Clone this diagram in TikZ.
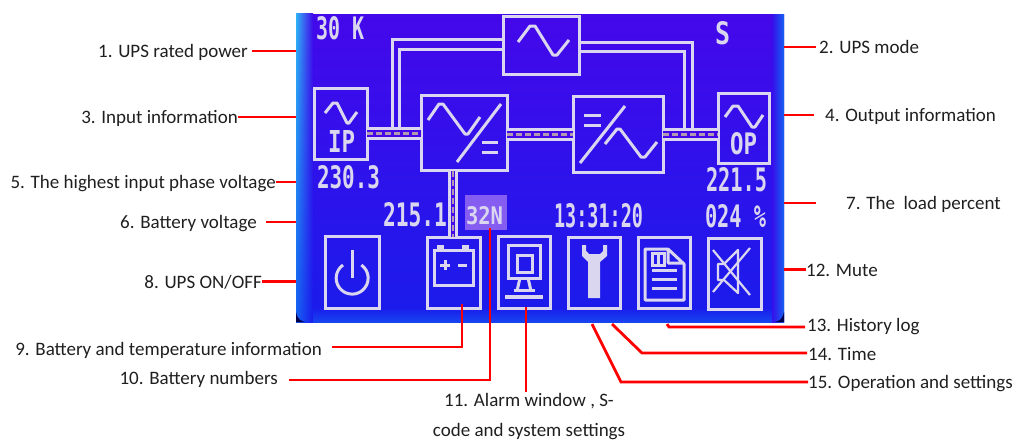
\documentclass[tikz,border=0pt]{standalone}
\usepackage{fontspec}
\setmainfont{Carlito}
\newfontfamily\lcdfont{DejaVu Sans Mono}
\usetikzlibrary{shapes.misc,fadings}
\definecolor{lcdink}{HTML}{DAD6F0}
\definecolor{lcdtop}{HTML}{4408EA}
\definecolor{lcdbot}{HTML}{1A1CEC}
\definecolor{lcddash}{HTML}{B09AB0}
\definecolor{lcdedge}{HTML}{1560F2}
\definecolor{lcdglow}{HTML}{30B4F6}
\newcommand{\lcdtext}[3]{\resizebox{#1pt}{#2pt}{\lcdfont\bfseries #3}}
\tikzset{
    lcdscreen/.style={rectangle,top color=lcdtop,bottom color=lcdbot,minimum width=488pt,minimum height=308pt,inner sep=0pt,outer sep=0pt},
    lcdline/.style={draw=lcdink,line width=3pt},
    lcdbox/.style={rectangle,lcdline,inner sep=0pt,outer sep=0pt},
    docbox/.style={chamfered rectangle,chamfered rectangle corners=north east,chamfered rectangle sep=4pt,lcdline,inner sep=0pt,outer sep=0pt},
    lcdlabel/.style={text=lcdink,inner sep=0pt},
    linkline/.style={lcdline,double=lcdtop,double distance=7pt},
    linkdash/.style={draw=lcddash,line width=3pt,dash pattern=on 6pt off 3pt},
    leader/.style={draw=red,line width=2.8pt},
    caption/.style={font=\fontsize{19}{30}\selectfont,text=black!88,inner sep=0pt,text height=16pt,text depth=3pt},
}
\begin{document}
\begin{tikzpicture}[x=1pt,y=-1pt]
    \useasboundingbox (0,0) rectangle (1017,440);

    % screen
    \node[lcdscreen] (lcd) at (540,168) {};
    \shade[left color=lcdedge,right color=lcdbot] (296,14) rectangle (313,322);
    \shade[left color=lcdglow,middle color=lcdglow!60!lcdtop,right color=lcdtop,path fading=south] (296,14) rectangle (313,322);
    \shade[left color=lcdtop!70!lcdbot,right color=lcdedge] (772,14) rectangle (784,322);
    \shade[top color=lcdbot,bottom color=lcdedge!60!lcdbot] (313,308) rectangle (772,322);
    \fill[blue!30!black] (296,322) -- (296,312) .. controls (297,318) and (300,321) .. (305,322) -- cycle;
    \fill[blue!30!black] (784,322) -- (784,312) .. controls (783,318) and (780,321) .. (775,322) -- cycle;
    \fill[lcdtop!65!white] (465,195) rectangle (507,230);

    % power path
    \node[lcdbox,minimum width=76pt,minimum height=58pt] (bypbox) at (541,45) {};
    \node[docbox,minimum width=53pt,minimum height=71pt] (ipbox) at (340.5,123.5) {};
    \node[lcdbox,minimum width=86pt,minimum height=75pt] (recbox) at (464,133) {};
    \node[lcdbox,minimum width=90pt,minimum height=76pt] (invbox) at (618,134) {};
    \node[docbox,minimum width=51pt,minimum height=70pt] (opbox) at (743.5,128) {};

    \draw[lcdline] (bypbox.west |- 0,39) -| (392,128);
    \draw[lcdline] (bypbox.west |- 0,49) -| (399,128);
    \draw[lcdline] (bypbox.east |- 0,42) -| (692,128);
    \draw[lcdline] (bypbox.east |- 0,51) -| (684,128);

    \draw[linkline] (ipbox.east |- 0,133) -- (recbox.west |- 0,133);
    \draw[linkline] (recbox.east |- 0,134) -- (invbox.west |- 0,134);
    \draw[linkline] (invbox.east |- 0,134) -- (opbox.west |- 0,134);
    \draw[linkdash] (ipbox.east |- 0,133) -- (recbox.west |- 0,133);
    \draw[linkdash] (recbox.east |- 0,134) -- (invbox.west |- 0,134);
    \draw[linkdash] (invbox.east |- 0,134) -- (opbox.west |- 0,134);

    % bottom icons
    \node[docbox,minimum width=54pt,minimum height=72pt] (onbox) at (352,272) {};
    \node[docbox,minimum width=53pt,minimum height=71pt] (batbox) at (453.5,272.5) {};
    \node[docbox,minimum width=52pt,minimum height=72pt] (almbox) at (524,272) {};
    \node[docbox,minimum width=52pt,minimum height=71pt] (setbox) at (594,272.5) {};
    \node[docbox,minimum width=52pt,minimum height=71pt] (logbox) at (664,272.5) {};
    \node[docbox,minimum width=53pt,minimum height=71pt] (mutbox) at (734.5,273.5) {};

    \draw[linkline,double distance=4pt] (recbox.south -| 453,0) -- (batbox.north -| 453,0);
    \draw[linkdash,line width=2.4pt] (recbox.south -| 453,0) -- (batbox.north -| 453,0);

    % wave and converter marks
    \draw[lcdline,line join=round] (518,42) -- (530,26) -- (535,26) -- (553,55) -- (557,55) -- (569,40);
    \draw[lcdline,line join=round] (325,113) -- (333,103) -- (337,103) -- (347,123) -- (349,123) -- (357,112);
    \draw[lcdline,line join=round] (725,117) -- (733,106) -- (738,106) -- (752,127) -- (755,127) -- (763,115);
    \draw[lcdline,line join=round] (428,120) -- (439,104) -- (443,104) -- (465,134) -- (468,134) -- (480,117);
    \draw[lcdline,line join=round] (605,144) -- (617,129) -- (620,129) -- (641,157) -- (645,157) -- (657,142);
    \draw[lcdline] (457,162) -- (501,104);
    \draw[lcdline] (580,163) -- (625,106);
    \foreach \y in {142,152}{
        \draw[lcdline] (482,\y) -- (498,\y);
    }
    \foreach \y in {115,125}{
        \draw[lcdline] (584,\y) -- (601,\y);
    }

    % readings
    \node[lcdlabel] (kvatxt) at (340,28.5) {\lcdtext{48}{23}{30 K}};
    \node[lcdlabel] (modetxt) at (722.5,33.5) {\lcdtext{15}{23}{S}};
    \node[lcdlabel] (iptxt) at (341.5,141) {\lcdtext{27}{22}{IP}};
    \node[lcdlabel] (optxt) at (743.5,144) {\lcdtext{27}{22}{OP}};
    \node[lcdlabel] (involt) at (348.5,177.5) {\lcdtext{63}{23}{230.3}};
    \node[lcdlabel] (outvolt) at (736.5,180) {\lcdtext{61}{24}{221.5}};
    \node[lcdlabel] (batvolt) at (415,215) {\lcdtext{64}{24}{215.1}};
    \node[lcdlabel] (batnum) at (484.5,216) {\lcdtext{37}{18}{32N}};
    \node[lcdlabel] (clock) at (598.5,216) {\lcdtext{89}{24}{13:31:20}};
    \node[lcdlabel] (loadtxt) at (735.5,216.5) {\lcdtext{61}{23}{024 \%}};

    % icon marks
    \draw[lcdline] (352,250) -- (352,278);
    \draw[lcdline] (343,265) arc[start angle=-125,end angle=-415,radius=16];
    \draw[lcdline] (434,250) rectangle (473,285);
    \fill[lcdink] (437,245) rectangle (444,250);
    \fill[lcdink] (462,245) rectangle (469,250);
    \draw[lcdline] (440,265) -- (450,265);
    \draw[lcdline] (445,260) -- (445,270);
    \draw[lcdline] (458,265) -- (467,265);
    \draw[lcdline] (508,245) rectangle (540,278);
    \draw[lcdline] (517,255) rectangle (532,272);
    \draw[lcdline] (520,278) -- (517,291);
    \draw[lcdline] (528,278) -- (531,291);
    \draw[lcdline] (514,290) -- (535,290);
    \draw[lcdline,line width=3.6pt] (505,297) -- (543,297);
    \fill[lcdink] (582,245) -- (586,245) -- (586,251) -- (589,254) -- (600,254) -- (603,251) -- (603,245) -- (607,245) -- (607,256) -- (600,262) -- (600,298) -- (588,298) -- (588,262) -- (582,256) -- cycle;
    \draw[lcdline,line join=round] (668,249) -- (645,249) -- (645,300) -- (684,300) -- (684,264) -- (668,249) -- (668,263) -- (684,263);
    \draw[lcdline] (652,253) rectangle (664,265);
    \draw[lcdline] (658,253) -- (658,265);
    \foreach \y in {270,279,288}{
        \draw[lcdline] (652,\y) -- (677,\y);
    }
    \draw[lcdline,line width=2.2pt] (713,250) -- (750,295);
    \draw[lcdline,line width=2.2pt] (750,248) -- (713,292);
    \draw[lcdline,line width=2.2pt,line join=round] (718,264) -- (724,264) -- (738,250) -- (738,293) -- (724,280) -- (718,280) -- cycle;

    % captions left
    \node[caption,anchor=east] (cap1) at (248,51) {1. UPS rated power};
    \node[caption,anchor=east] (cap3) at (238,117) {3. Input information};
    \node[caption,anchor=east] (cap5) at (276,182) {5. The highest input phase voltage};
    \node[caption,anchor=east] (cap6) at (257,222) {6. Battery voltage};
    \node[caption,anchor=east] (cap8) at (262,281.5) {8. UPS ON/OFF};
    \draw[leader] ([xshift=4pt]cap1.east) -- (cap1.east -| lcd.west);
    \draw[leader] (cap3.east) -- (cap3.east -| lcd.west);
    \draw[leader] (cap5.east) -- (cap5.east -| lcd.west);
    \draw[leader] ([xshift=9pt]cap6.east) -- (cap6.east -| lcd.west);
    \draw[leader] (cap8.east) -- (cap8.east -| lcd.west);

    % captions right
    \node[caption,anchor=west] (cap2) at (819,47) {2. UPS mode};
    \node[caption,anchor=west] (cap4) at (825,115) {4. Output information};
    \node[caption,anchor=west] (cap7) at (846,203) {7. The \ load percent};
    \node[caption,anchor=west] (cap12) at (806,269.5) {12. Mute};
    \draw[leader] (lcd.east |- cap2.west) -- ([xshift=-3pt]cap2.west);
    \draw[leader] (lcd.east |- cap4.west) -- ([xshift=-11pt]cap4.west);
    \draw[leader] (lcd.east |- cap7.west) -- ([xshift=-30pt]cap7.west);
    \draw[leader] (lcd.east |- cap12.west) -- (cap12.west);

    % captions below
    \node[caption,anchor=west] (cap13) at (807,325) {13. History log};
    \node[caption,anchor=west] (cap14) at (808,354) {14. Time};
    \node[caption,anchor=west] (cap15) at (808,382) {15. Operation and settings};
    \node[caption,anchor=east] (cap9) at (322,349) {9. Battery and temperature information};
    \node[caption,anchor=east] (cap10) at (278,378) {10. Battery numbers};
    \node[caption,align=center,text height=,text depth=,anchor=north] (cap11) at (529,393) {11. Alarm window , S-\\code and system settings};
    \coordinate (logend) at (667,324);
    \coordinate (timeend) at (612,324);
    \coordinate (setend) at (592,324);
    \coordinate (batend) at (462,304);
    \coordinate (numend) at (490,228);
    \coordinate (almend) at (526,307);
    \draw[leader] (logend) -- (669,327) -- (805,327);
    \draw[leader] (timeend) -- (642,353) -- (807,353);
    \draw[leader] (setend) -- (621,382) -- (cap15.west);
    \draw[leader] ([xshift=10pt,yshift=2pt]cap9.east) -| (batend);
    \draw[leader] ([xshift=11pt,yshift=-2pt]cap10.east) -| (numend);
    \draw[leader] (almend) -- (526,392);
\end{tikzpicture}
\end{document}
